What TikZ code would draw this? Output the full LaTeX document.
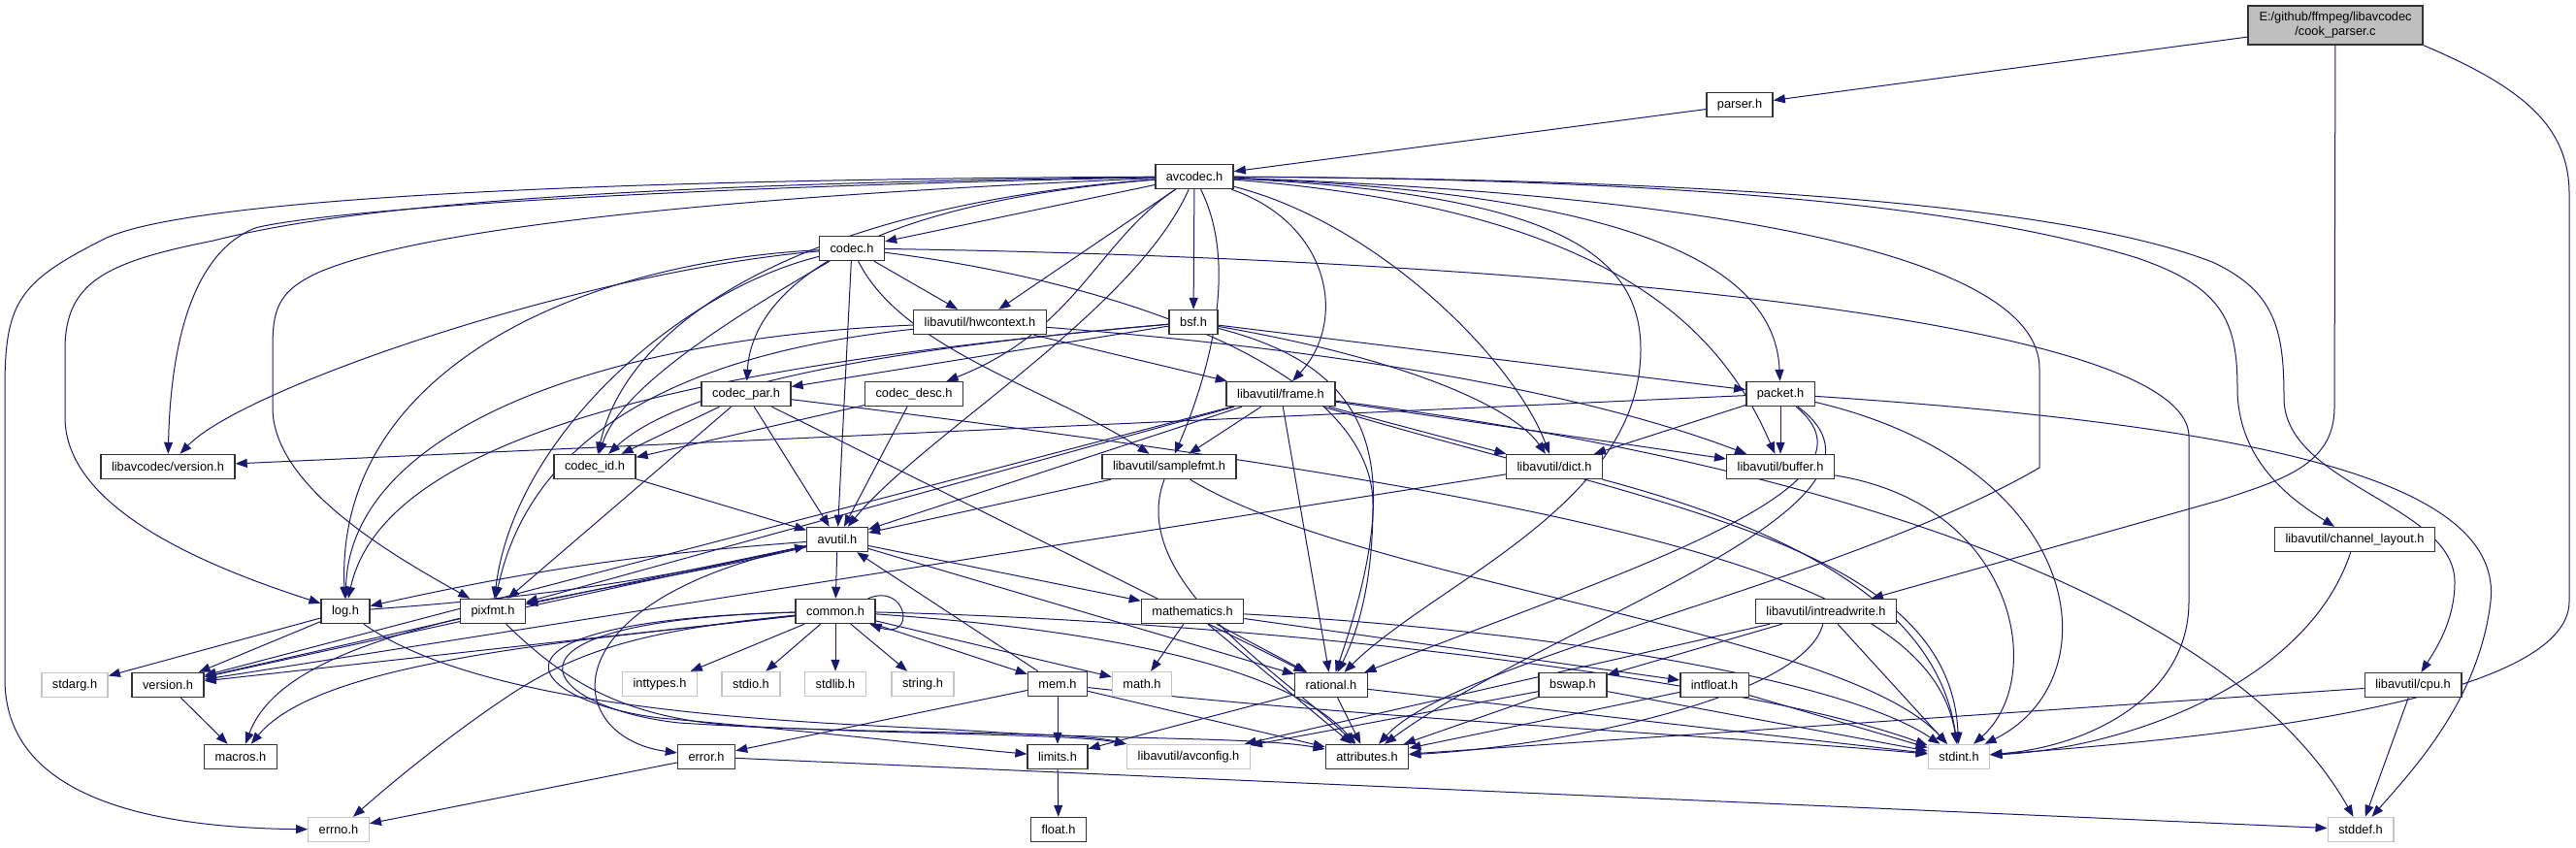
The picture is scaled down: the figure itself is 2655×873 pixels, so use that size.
\documentclass[tikz,border=0pt]{standalone}
\usepackage{fontspec}
\setmainfont{Liberation Sans}
\usetikzlibrary{arrows.meta}
\definecolor{edgecol}{HTML}{191970}
\definecolor{rootfill}{HTML}{BFBFBF}
\definecolor{sysline}{HTML}{C4C4C4}
\pgfdeclarelayer{back}
\pgfdeclarelayer{bg}
\pgfsetlayers{back,bg,main}
\newcommand{\nf}{\fontsize{12.8}{15}\selectfont}
\tikzset{
  hdr/.style={draw=black!80, line width=1.4pt, fill=white, minimum height=25pt, inner xsep=11pt, inner ysep=0pt, font=\nf},
  sys/.style={hdr, draw=sysline},
  rootbox/.style={hdr, fill=rootfill, minimum height=40pt, minimum width=180pt, align=center},
  e/.style={draw=edgecol, line width=1pt, -{Triangle[length=12pt,width=9pt]}},
}
\begin{document}
\begin{tikzpicture}[x=1pt,y=-1pt]
\useasboundingbox (0,0) rectangle (2655,873);
\begin{pgfonlayer}{back}
\fill[white] (0,0) rectangle (2655,873);
\end{pgfonlayer}
% nodes
\node[rootbox] (root) at (2407,26) {E:/github/ffmpeg/libavcodec\\/cook\_parser.c};
\node[hdr] (parser) at (1793,108) {parser.h};
\node[hdr] (avcodec) at (1231,182) {avcodec.h};
\node[hdr] (codec) at (878,256) {codec.h};
\node[hdr] (hwcontext) at (1010,332) {libavutil/hwcontext.h};
\node[hdr] (bsf) at (1230,332) {bsf.h};
\node[hdr] (codecpar) at (769,406) {codec\_par.h};
\node[hdr] (codecdesc) at (942,406) {codec\_desc.h};
\node[hdr] (frame) at (1320,406) {libavutil/frame.h};
\node[hdr] (packet) at (1835,406) {packet.h};
\node[hdr] (lcversion) at (173,481) {libavcodec/version.h};
\node[hdr] (codecid) at (613,481) {codec\_id.h};
\node[hdr] (samplefmt) at (1205,481) {libavutil/samplefmt.h};
\node[hdr] (dict) at (1602,481) {libavutil/dict.h};
\node[hdr] (buffer) at (1835,481) {libavutil/buffer.h};
\node[hdr] (avutil) at (863,556) {avutil.h};
\node[hdr] (chlayout) at (2427,556) {libavutil/channel\_layout.h};
\node[hdr] (log) at (356,630) {log.h};
\node[hdr] (pixfmt) at (508,630) {pixfmt.h};
\node[hdr] (common) at (861,630) {common.h};
\node[hdr] (mathematics) at (1229,630) {mathematics.h};
\node[hdr] (intreadwrite) at (1882,630) {libavutil/intreadwrite.h};
\node[sys] (stdarg) at (77,706) {stdarg.h};
\node[hdr] (version) at (173,706) {version.h};
\node[sys] (inttypes) at (680,705) {inttypes.h};
\node[sys] (stdio) at (774,705) {stdio.h};
\node[sys] (stdlib) at (861,705) {stdlib.h};
\node[sys] (string) at (951,705) {string.h};
\node[hdr] (mem) at (1090,705) {mem.h};
\node[sys] (math) at (1177,705) {math.h};
\node[hdr] (rational) at (1372,706) {rational.h};
\node[hdr] (bswap) at (1621,706) {bswap.h};
\node[hdr] (intfloat) at (1767,706) {intfloat.h};
\node[hdr] (cpu) at (2487,706) {libavutil/cpu.h};
\node[hdr] (macros) at (248,780) {macros.h};
\node[hdr] (error) at (728,780) {error.h};
\node[hdr] (limits) at (1090,780) {limits.h};
\node[sys] (avconfig) at (1225,780) {libavutil/avconfig.h};
\node[hdr] (attributes) at (1409,780) {attributes.h};
\node[sys] (stdint) at (2019,780) {stdint.h};
\node[hdr] (float) at (1091,855) {float.h};
\node[sys] (errno) at (349,855) {errno.h};
\node[sys] (stddef) at (2433,855) {stddef.h};
\begin{pgfonlayer}{bg}
% root
\draw[e] (root) -- (parser);
\draw[e] (root) -- (2406,420) .. controls (2406,480) and (2350,495) .. (2290,515) -- (intreadwrite);
\draw[e] (root.south east) .. controls (2600,90) and (2648,130) .. (2648,200) -- (2648,620) .. controls (2648,720) and (2300,760) .. (stdint);
\draw[e] (parser) -- (avcodec);
% avcodec
\draw[e] (avcodec) .. controls (600,185) and (200,205) .. (110,245) .. controls (20,290) and (5,310) .. (5,400) -- (5,700) .. controls (5,820) and (150,853) .. (errno);
\draw[e] (avcodec) .. controls (600,190) and (350,215) .. (220,248) .. controls (110,270) and (67,290) .. (67,360) -- (67,430) .. controls (67,520) and (200,580) .. (log);
\draw[e] (avcodec) .. controls (600,195) and (320,220) .. (263,235) .. controls (200,260) and (176,350) .. (lcversion);
\draw[e] (avcodec) .. controls (800,200) and (450,230) .. (330,280) .. controls (285,300) and (281,320) .. (281,360) -- (281,420) .. controls (281,500) and (400,570) .. (pixfmt);
\draw[e] (avcodec) .. controls (850,210) and (650,320) .. (codecid);
\draw[e] (avcodec) .. controls (880,210) and (775,300) .. (codecpar);
\draw[e] (avcodec) -- (codec);
\draw[e] (avcodec) -- (hwcontext);
\draw[e] (avcodec) .. controls (1130,250) and (1110,340) .. (codecdesc);
\draw[e] (avcodec) .. controls (1170,320) and (950,450) .. (avutil);
\draw[e] (avcodec) -- (bsf);
\draw[e] (avcodec) .. controls (1280,280) and (1240,400) .. (samplefmt);
\draw[e] (avcodec) .. controls (1370,230) and (1390,330) .. (frame);
\draw[e] (avcodec) .. controls (1600,200) and (1691,260) .. (1691,360) .. controls (1691,520) and (1480,600) .. (rational);
\draw[e] (avcodec) .. controls (1420,230) and (1560,370) .. (dict);
\draw[e] (avcodec) .. controls (1650,215) and (1770,330) .. (buffer);
\draw[e] (avcodec) .. controls (1700,200) and (1830,280) .. (packet);
\draw[e] (avcodec) .. controls (1800,185) and (2050,220) .. (2200,265) .. controls (2290,295) and (2306,330) .. (2306,400) .. controls (2306,480) and (2370,520) .. (chlayout);
\draw[e] (avcodec) .. controls (1850,185) and (2150,220) .. (2280,270) .. controls (2345,300) and (2354,340) .. (2354,410) .. controls (2354,500) and (2530,520) .. (2530,600) .. controls (2530,640) and (2510,670) .. (cpu);
\draw[e] (avcodec) .. controls (1750,200) and (2102,260) .. (2102,380) -- (2102,482) .. controls (1900,600) and (1500,680) .. (attributes);
% codec.h
\draw[e] (codec) .. controls (1500,265) and (2256,320) .. (2256,450) -- (2256,620) .. controls (2256,720) and (2150,770) .. (stdint);
\draw[e] (codec) -- (avutil);
\draw[e] (codec) -- (hwcontext);
\draw[e] (codec) .. controls (930,360) and (1080,400) .. (samplefmt);
\draw[e] (codec) .. controls (1150,290) and (1415,380) .. (1415,520) .. controls (1415,600) and (1400,650) .. (rational);
\draw[e] (codec) .. controls (600,270) and (345,380) .. (log);
\draw[e] (codec) .. controls (700,300) and (530,450) .. (pixfmt);
\draw[e] (codec) .. controls (750,330) and (640,400) .. (codecid);
\draw[e] (codec) .. controls (600,280) and (250,400) .. (lcversion);
% hwcontext
\draw[e] (hwcontext) -- (frame);
\draw[e] (hwcontext) .. controls (1500,370) and (1700,430) .. (buffer);
\draw[e] (hwcontext) .. controls (600,350) and (360,450) .. (log);
\draw[e] (hwcontext) .. controls (650,370) and (540,480) .. (pixfmt);
% bsf
\draw[e] (bsf) -- (packet);
\draw[e] (bsf) .. controls (1450,370) and (1560,420) .. (dict);
\draw[e] (bsf) .. controls (1420,380) and (1450,480) .. (rational);
\draw[e] (bsf) .. controls (800,370) and (400,430) .. (log);
\draw[e] (bsf) .. controls (900,360) and (700,400) .. (codecid);
\draw[e] (bsf) -- (codecpar);
% codec_par
\draw[e] (codecpar) -- (codecid);
\draw[e] (codecpar) -- (avutil);
\draw[e] (codecpar) -- (pixfmt);
\draw[e] (codecpar) -- (rational);
\draw[e] (codecpar) .. controls (1700,520) and (1990,600) .. (stdint);
% codec_desc, codec_id
\draw[e] (codecdesc) -- (avutil);
\draw[e] (codecdesc) -- (codecid);
\draw[e] (codecid) -- (avutil);
% packet
\draw[e] (packet) -- (buffer);
\draw[e] (packet) -- (dict);
\draw[e] (packet) -- (lcversion);
\draw[e] (packet) .. controls (1950,500) and (1700,580) .. (rational);
\draw[e] (packet) .. controls (1990,520) and (1600,640) .. (attributes);
\draw[e] (packet) .. controls (2150,480) and (2180,700) .. (stdint);
\draw[e] (packet) .. controls (2350,440) and (2580,500) .. (2567,620) .. controls (2555,720) and (2490,790) .. (stddef);
% frame
\draw[e] (frame) -- (samplefmt);
\draw[e] (frame) -- (dict);
\draw[e] (frame) -- (buffer);
\draw[e] (frame) -- (rational);
\draw[e] (frame) -- (avutil);
\draw[e] (frame) -- (pixfmt);
\draw[e] (frame) -- (version);
\draw[e] (frame) .. controls (1700,520) and (2010,560) .. (stdint);
\draw[e] (frame) .. controls (1900,480) and (2300,620) .. (stddef);
% samplefmt
\draw[e] (samplefmt) -- (avutil);
\draw[e] (samplefmt) .. controls (1160,600) and (1330,700) .. (attributes);
\draw[e] (samplefmt) .. controls (1400,600) and (1900,650) .. (stdint);
% dict, buffer
\draw[e] (dict) -- (version);
\draw[e] (dict) .. controls (1900,560) and (2000,650) .. (stdint);
\draw[e] (buffer) .. controls (2080,520) and (2110,700) .. (stdint);
% avutil
\draw[e] (avutil) -- (common);
\draw[e] (avutil) -- (mathematics);
\draw[e] (avutil) -- (rational);
\draw[e] (avutil) to[bend right=4] (log);
\draw[e] (log) to[bend right=4] (avutil);
\draw[e] (avutil) -- (pixfmt);
\draw[e] (avutil) -- (version);
\draw[e] (avutil) .. controls (600,620) and (300,640) .. (macros);
\draw[e] (avutil) .. controls (560,620) and (580,760) .. (error);
% common
\draw[e] (common) -- (inttypes);
\draw[e] (common) -- (stdio);
\draw[e] (common) -- (stdlib);
\draw[e] (common) -- (string);
\draw[e] (common) -- (mem);
\draw[e] (common) -- (math);
\draw[e] (common) -- (version);
\draw[e] (common) .. controls (600,660) and (330,680) .. (macros);
\draw[e] (common) .. controls (680,648) and (600,665) .. (520,720) .. controls (460,760) and (400,810) .. (errno);
\draw[e] (common) .. controls (470,640) and (540,722) .. (680,740) .. controls (850,755) and (980,770) .. (limits);
\draw[e] (common) .. controls (480,640) and (560,730) .. (700,745) .. controls (900,758) and (1100,752) .. (avconfig.north west);
\draw[e] (common) .. controls (1150,650) and (1330,690) .. (attributes);
\draw[e] (common) .. controls (1300,640) and (1800,700) .. (stdint);
\draw[e] ([xshift=-8pt]common.north east) .. controls (935,600) and (945,660) .. ([xshift=-6pt]common.south east);
% mathematics
\draw[e] (mathematics) -- (math);
\draw[e] (mathematics) -- (rational);
\draw[e] (mathematics) -- (intfloat);
\draw[e] (mathematics) -- (attributes);
\draw[e] (mathematics) .. controls (1600,650) and (1900,700) .. (stdint);
% mem
\draw[e] (mem) -- (limits);
\draw[e] (mem) -- (error);
\draw[e] (mem) -- (avutil);
\draw[e] (mem) -- (attributes);
\draw[e] (mem) .. controls (1400,740) and (1800,760) .. (stdint);
% rational
\draw[e] (rational) -- (limits);
\draw[e] (rational) -- (attributes);
\draw[e] (rational) -- (stdint);
% intreadwrite
\draw[e] (intreadwrite) -- (bswap);
\draw[e] (intreadwrite) -- (stdint);
\draw[e] (intreadwrite) -- (avconfig);
\draw[e] (intreadwrite) .. controls (1860,720) and (1600,770) .. (attributes);
% bswap, intfloat, cpu, chlayout
\draw[e] (bswap) -- (attributes);
\draw[e] (bswap) -- (avconfig);
\draw[e] (bswap) -- (stdint);
\draw[e] (intfloat) -- (stdint);
\draw[e] (intfloat) -- (attributes);
\draw[e] (cpu) -- (stddef);
\draw[e] (cpu) -- (attributes);
\draw[e] (chlayout) .. controls (2380,700) and (2200,770) .. (stdint);
% log, pixfmt
\draw[e] (log) -- (stdarg);
\draw[e] (log) -- (version);
\draw[e] (log) .. controls (520,745) and (900,745) .. (1030,755) .. controls (1150,762) and (1300,760) .. (attributes);
\draw[e] (pixfmt) -- (version);
\draw[e] (pixfmt) .. controls (580,700) and (640,740) .. (760,748) .. controls (950,758) and (1100,756) .. (avconfig.north west);
% misc
\draw[e] (version) -- (macros);
\draw[e] (limits) -- (float);
\draw[e] (error) -- (errno);
\draw[e] (error) -- (stddef);
\end{pgfonlayer}
\end{tikzpicture}
\end{document}
